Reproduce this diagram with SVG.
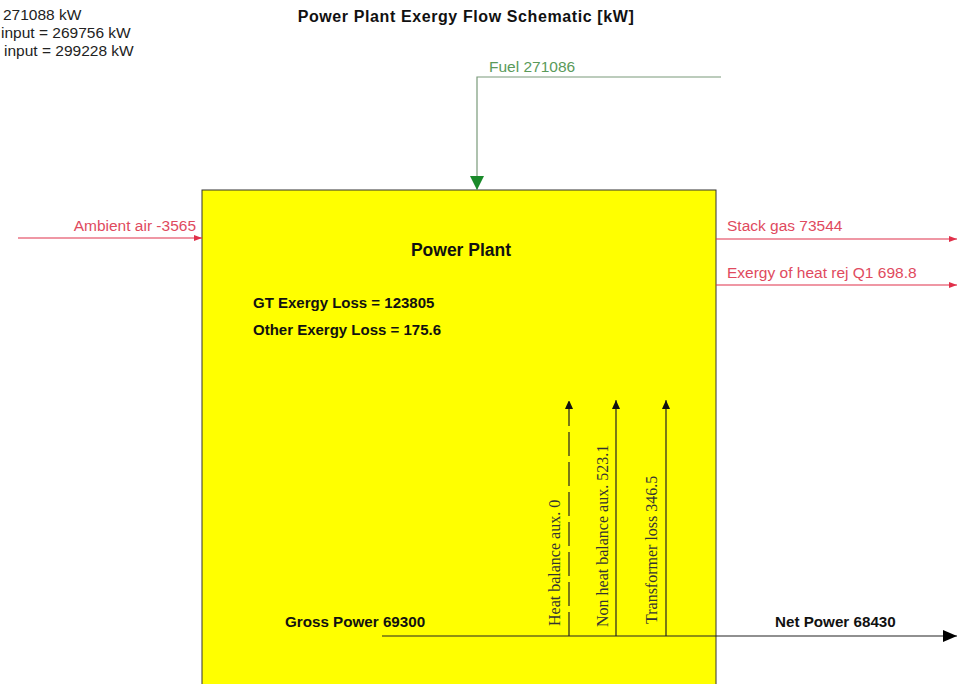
<svg xmlns="http://www.w3.org/2000/svg" width="957" height="684" viewBox="0 0 957 684">
<style>
.s{font-family:"Liberation Sans",Arial,sans-serif;font-size:15.5px;fill:#222}
.b{font-family:"Liberation Sans",Arial,sans-serif;font-weight:bold;fill:#111}
.r{font-family:"Liberation Sans",Arial,sans-serif;font-size:15.5px;fill:#e04a5e}
.g{font-family:"Liberation Sans",Arial,sans-serif;font-size:15.5px;fill:#5a9a5a}
.v{font-family:"Liberation Serif","Times New Roman",serif;font-size:16px;fill:#333}
.red{stroke:#e0304a;stroke-width:1.2;fill:none}
.blk{stroke:#222;stroke-width:1.2;fill:none}
</style>
<defs>
<marker id="ar" markerWidth="8" markerHeight="6" refX="8" refY="3" orient="auto" markerUnits="userSpaceOnUse"><path d="M0,0 L8,3 L0,6 Z" fill="#e0304a"/></marker>
<marker id="ak" markerWidth="8" markerHeight="9" refX="9" refY="4" orient="auto" markerUnits="userSpaceOnUse"><path d="M0,0 L9,4 L0,8 Z" fill="#111"/></marker>
<marker id="abig" markerWidth="14" markerHeight="12" refX="14" refY="6" orient="auto" markerUnits="userSpaceOnUse"><path d="M0,0 L14,6 L0,12 Z" fill="#000"/></marker>
<marker id="ag" markerWidth="14" markerHeight="14" refX="14" refY="7" orient="auto" markerUnits="userSpaceOnUse"><path d="M0,0 L14,7 L0,14 Z" fill="#1a8a2a"/></marker>
</defs>
<rect width="957" height="684" fill="#fff"/>
<text class="s" x="3" y="20">271088 kW</text>
<text class="s" x="1" y="38">input = 269756 kW</text>
<text class="s" x="4" y="56">input = 299228 kW</text>
<text class="b" x="466" y="22" font-size="16" letter-spacing="0.6" text-anchor="middle">Power Plant Exergy Flow Schematic [kW]</text>
<g id="plant">
<rect x="202" y="190" width="514" height="500" fill="#ffff00" stroke="#333" stroke-width="1"/>
<text class="b" x="461" y="256" font-size="17.5" text-anchor="middle">Power Plant</text>
<text class="b" x="253" y="308" font-size="15">GT Exergy Loss = 123805</text>
<text class="b" x="253" y="335" font-size="15">Other Exergy Loss = 175.6</text>
</g>
<g id="connectors">
<path d="M721,77 H477 V190" stroke="#7a9a7a" stroke-width="1.2" fill="none" marker-end="url(#ag)"/>
<line class="red" x1="18" y1="238" x2="202" y2="238" marker-end="url(#ar)"/>
<line class="red" x1="716" y1="239" x2="957" y2="239" marker-end="url(#ar)"/>
<line class="red" x1="716" y1="285" x2="957" y2="285" marker-end="url(#ar)"/>
<line x1="382" y1="636" x2="957" y2="636" stroke="#222" stroke-width="1.2" marker-end="url(#abig)"/>
<line class="blk" x1="569" y1="636" x2="569" y2="400" stroke-dasharray="24,6" marker-end="url(#ak)"/>
<line class="blk" x1="616" y1="636" x2="616" y2="400" marker-end="url(#ak)"/>
<line class="blk" x1="666" y1="636" x2="666" y2="400" marker-end="url(#ak)"/>
</g>
<g id="labels">
<text class="g" x="489" y="72">Fuel  271086</text>
<text class="r" x="196" y="231" text-anchor="end">Ambient air -3565</text>
<text class="r" x="727" y="231">Stack gas 73544</text>
<text class="r" x="727" y="278">Exergy of heat rej Q1 698.8</text>
<text class="b" x="285" y="627" font-size="15.2">Gross Power 69300</text>
<text class="b" x="775" y="627" font-size="15.2">Net Power 68430</text>
<text class="v" transform="translate(560,626) rotate(-90)">Heat balance aux.  0</text>
<text class="v" transform="translate(608,627) rotate(-90)">Non heat balance aux.  523.1</text>
<text class="v" transform="translate(657,624) rotate(-90)">Transformer loss  346.5</text>
</g>
</svg>
